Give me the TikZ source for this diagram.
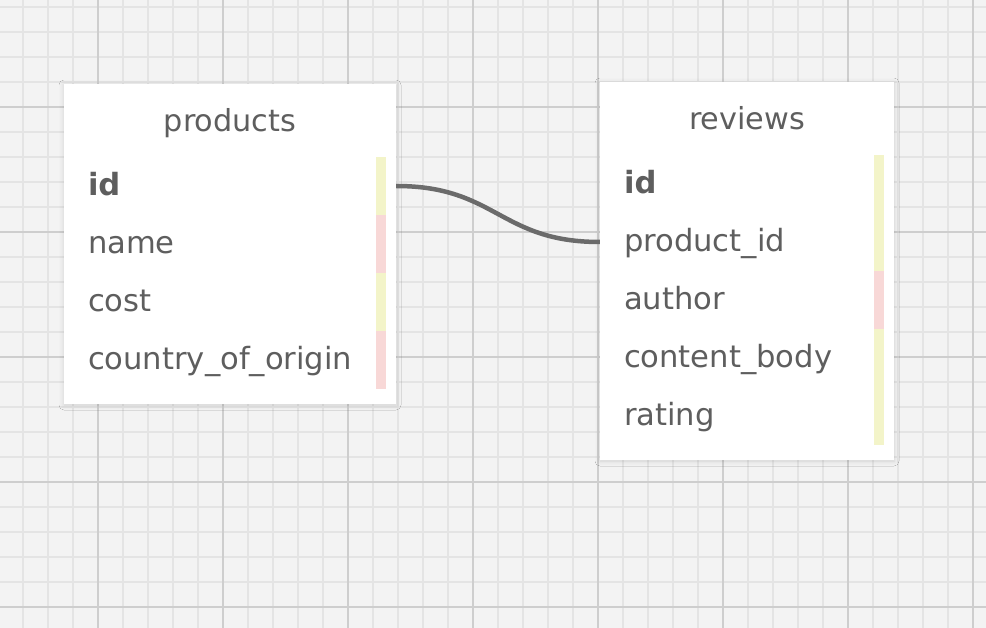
\documentclass[tikz,border=0pt]{standalone}
\usepackage{fontspec}
\setmainfont{DejaVu Sans}
\usepackage{xcolor}
\usepackage{tikz}
\usetikzlibrary{shadows.blur}

\definecolor{canvas}{HTML}{F3F3F3}
\definecolor{gridminor}{HTML}{E4E4E4}
\definecolor{gridmajor}{HTML}{CECECE}
\definecolor{inktext}{HTML}{5E5E5E}
\definecolor{linkgray}{HTML}{6B6B6B}
\definecolor{keyyes}{HTML}{F3F4C9}
\definecolor{keyno}{HTML}{F8D8D7}

\begin{document}
\begin{tikzpicture}[x=1pt,y=-1pt,
  tablebox/.style={fill=white,inner sep=0pt,
    blur shadow={shadow xshift=0pt,shadow yshift=-1pt,shadow blur radius=5pt,shadow opacity=14}},
  title/.style={anchor=base,text=inktext,font=\fontsize{30.3}{36}\selectfont},
  field/.style={text=inktext,font=\fontsize{30.6}{36}\selectfont,text width=#1,
    align=left,inner xsep=24pt,inner ysep=0pt,minimum height=58pt,
    text height=26pt,text depth=6pt},
  link/.style={draw=linkgray,line width=4.5pt}]
\useasboundingbox (0,0) rectangle (986,628);
\fill[canvas] (0,0) rectangle (986,628);

% grid
\foreach \gx in {23,48,...,985} \draw[gridminor,line width=1.5pt] (\gx,0) -- (\gx,628);
\foreach \gy in {7,32,...,628} \draw[gridminor,line width=1.5pt] (0,\gy) -- (986,\gy);
\foreach \gx in {98,223,...,985} \draw[gridmajor,line width=1.5pt] (\gx,0) -- (\gx,628);
\foreach \gy in {107,232,...,628} \draw[gridmajor,line width=1.5pt] (0,\gy) -- (986,\gy);

% products
\node[tablebox,minimum width=332pt,minimum height=320pt] (P) at (230,244) {};
\node[title]            (Pt)   at (230,132) {products};
\node[field=284pt]      (Pid)  at (230,186) {\textbf{id}};
\node[field=284pt]      (Pnm)  at (230,244) {name};
\node[field=284pt]      (Pco)  at (230,302) {cost};
\node[field=284pt]      (Pcy)  at (230,360) {country\_of\_origin};

% reviews
\node[tablebox,minimum width=294pt,minimum height=378pt] (R) at (747,271) {};
\node[title]            (Rt)   at (747,130) {reviews};
\node[field=246pt]      (Rid)  at (747,184) {\textbf{id}};
\node[field=246pt]      (Rpid) at (747,242) {product\_id};
\node[field=246pt]      (Rau)  at (747,300) {author};
\node[field=246pt]      (Rcb)  at (747,358) {content\_body};
\node[field=246pt]      (Rra)  at (747,416) {rating};

% key bars
\foreach \f/\c in {Pid/keyyes,Pnm/keyno,Pco/keyyes,Pcy/keyno,
                   Rid/keyyes,Rpid/keyyes,Rau/keyno,Rcb/keyyes,Rra/keyyes}
  \fill[\c] ([xshift=-20pt]\f.north east) rectangle ([xshift=-10pt]\f.south east);

\draw[link] (Pid.east) .. controls +(100,0) and +(-100,0) .. (Rpid.west);

\end{tikzpicture}
\end{document}
